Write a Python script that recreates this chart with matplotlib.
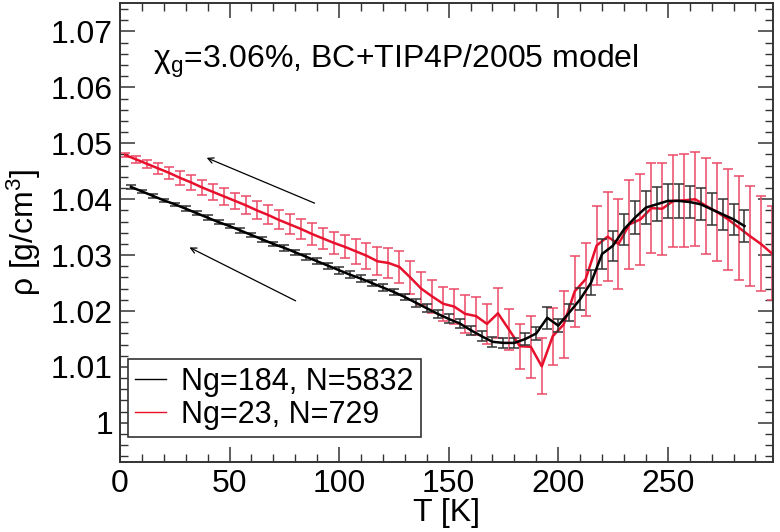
import numpy as np
import matplotlib
matplotlib.use('Agg')
import matplotlib.pyplot as plt
from matplotlib.ticker import MultipleLocator, FormatStrFormatter

plt.rcParams['font.family'] = ['Liberation Sans', 'DejaVu Sans']
plt.rcParams['mathtext.fontset'] = 'custom'
plt.rcParams['mathtext.rm'] = 'Liberation Sans'
plt.rcParams['mathtext.it'] = 'Liberation Sans'

# Ng=184, N=5832 (black)
T_big = list(range(5, 290, 5))
rho_big = [1.0422, 1.0414, 1.0406, 1.0398, 1.0391, 1.0383, 1.0375, 1.0367, 1.0359, 1.0352,
           1.0344, 1.0336, 1.0328, 1.0320, 1.0313, 1.0305, 1.0297, 1.0289, 1.0281, 1.0273,
           1.0265, 1.0258, 1.0250, 1.0242, 1.0234, 1.0225, 1.0215, 1.0205, 1.0195, 1.0186,
           1.0178, 1.0166, 1.0155, 1.0145, 1.0143, 1.0143, 1.0150, 1.0160, 1.0188, 1.0174,
           1.0197, 1.0221, 1.0251, 1.0302, 1.0317, 1.0346, 1.0367, 1.0385, 1.0391, 1.0397,
           1.0397, 1.0395, 1.0391, 1.0382, 1.0373, 1.0364, 1.0352]
err_big = [0.0003, 0.0003, 0.0003, 0.0003, 0.0003, 0.0004, 0.0004, 0.0004, 0.0004, 0.0004,
           0.0004, 0.0004, 0.0004, 0.0004, 0.0005, 0.0005, 0.0005, 0.0005, 0.0005, 0.0006,
           0.0006, 0.0006, 0.0006, 0.0006, 0.0006, 0.0006, 0.0007, 0.0007, 0.0007, 0.0008,
           0.0008, 0.0008, 0.0009, 0.0009, 0.0009, 0.0009, 0.0010, 0.0011, 0.0020, 0.0012,
           0.0015, 0.0020, 0.0022, 0.0026, 0.0027, 0.0028, 0.0029, 0.0029, 0.0030, 0.0030,
           0.0030, 0.0029, 0.0029, 0.0029, 0.0028, 0.0028, 0.0028]

# Ng=23, N=729 (red)
T_small = [2.5 + 5 * i for i in range(60)]
rho_small = [1.0479, 1.0471, 1.0463, 1.0455, 1.0447, 1.0438, 1.0430, 1.0421, 1.0413, 1.0405,
             1.0397, 1.0389, 1.0380, 1.0372, 1.0363, 1.0355, 1.0347, 1.0338, 1.0330, 1.0322,
             1.0315, 1.0307, 1.0299, 1.0289, 1.0286, 1.0279, 1.0260, 1.0240, 1.0226, 1.0213,
             1.0208, 1.0195, 1.0191, 1.0177, 1.0196, 1.0167, 1.0137, 1.0136, 1.0101, 1.0155,
             1.0176, 1.0235, 1.0257, 1.0317, 1.0333, 1.0320, 1.0355, 1.0364, 1.0384, 1.0383,
             1.0397, 1.0398, 1.0400, 1.0388, 1.0377, 1.0364, 1.0349, 1.0334, 1.0320, 1.0303]
err_small = [0.0003, 0.0006, 0.0008, 0.0010, 0.0011, 0.0012, 0.0013, 0.0014, 0.0014, 0.0015,
             0.0015, 0.0016, 0.0016, 0.0017, 0.0017, 0.0018, 0.0018, 0.0019, 0.0019, 0.0020,
             0.0021, 0.0022, 0.0023, 0.0025, 0.0027, 0.0028, 0.0029, 0.0030, 0.0030, 0.0030,
             0.0032, 0.0034, 0.0034, 0.0036, 0.0045, 0.0036, 0.0040, 0.0056, 0.0050, 0.0051,
             0.0060, 0.0063, 0.0065, 0.0070, 0.0080, 0.0080, 0.0080, 0.0081, 0.0081, 0.0082,
             0.0082, 0.0083, 0.0084, 0.0086, 0.0088, 0.0090, 0.0093, 0.0090, 0.0085, 0.0084]

fig = plt.figure(figsize=(7.8, 5.32), dpi=100)
ax = fig.add_axes([0.1538, 0.1316, 0.8372, 0.8628])

ax.errorbar(T_big, rho_big, yerr=err_big, color='black', lw=1.8, ecolor='#333333',
            elinewidth=1.1, capsize=3.5, capthick=1.1, zorder=3)
ax.errorbar(T_small, rho_small, yerr=err_small, color='#e8112d', lw=1.8, ecolor='#ec4a66',
            elinewidth=1.1, capsize=3.5, capthick=1.1, zorder=2)

# legend handles: thin short lines
ax.plot([], [], color='black', lw=1, label='Ng=184, N=5832')
ax.plot([], [], color='#e8112d', lw=1, label='Ng=23, N=729')
leg = ax.legend(loc='lower left', bbox_to_anchor=(0.012, 0.054), borderaxespad=0,
                fontsize=22, handlelength=1.0, handletextpad=0.5, fancybox=False,
                framealpha=1, edgecolor='#333333', borderpad=0.25, labelspacing=0.1)
leg.get_frame().set_linewidth(1.2)

ax.annotate('', xy=(38.4, 1.0476), xytext=(90, 1.0391),
            arrowprops=dict(arrowstyle='->', color='black', lw=0.9))
ax.annotate('', xy=(30.6, 1.0316), xytext=(81.3, 1.0216),
            arrowprops=dict(arrowstyle='->', color='black', lw=0.9))

ax.text(15, 1.0646, r'$\mathregular{\chi_g}$=3.06%, BC+TIP4P/2005 model', fontsize=23,
        ha='left', va='center')

ax.set_xlim(0, 298)
ax.set_ylim(0.993, 1.0751)
ax.xaxis.set_major_locator(MultipleLocator(50))
ax.xaxis.set_minor_locator(MultipleLocator(10))
ax.yaxis.set_major_locator(MultipleLocator(0.01))
ax.yaxis.set_minor_locator(MultipleLocator(0.002))
ax.yaxis.set_major_formatter(FormatStrFormatter('%g'))
ax.tick_params(which='both', direction='in', top=True, right=True, labelsize=23,
               color='#333333')
ax.tick_params(which='major', length=11, width=1.1, pad=5)
ax.tick_params(which='minor', length=6, width=1.0)
for s in ax.spines.values():
    s.set_linewidth(1.4)
    s.set_color('#333333')

ax.set_xlabel('T [K]', fontsize=23, labelpad=-1)
ax.set_ylabel(r'ρ [g/cm$^\mathregular{3}$]', fontsize=23, labelpad=6)

fig.savefig('out.png', dpi=100)
